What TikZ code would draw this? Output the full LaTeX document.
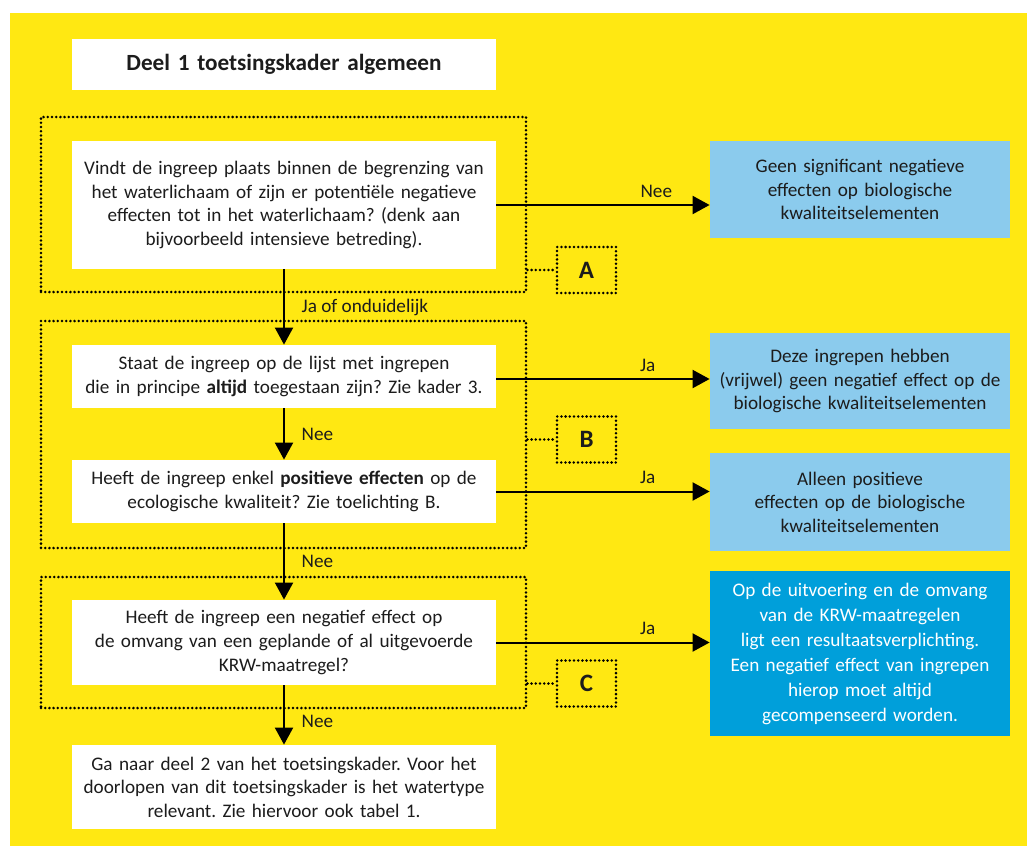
\documentclass[tikz,border=0pt]{standalone}
\usepackage{fontspec}
\setmainfont{Carlito}
\usetikzlibrary{arrows.meta}
\definecolor{rijksgeel}{RGB}{255,232,18}
\definecolor{lichtblauw}{RGB}{139,203,237}
\definecolor{donkerblauw}{RGB}{0,159,218}
\definecolor{tekst}{RGB}{28,28,28}
\frenchspacing
\begin{document}
\begin{tikzpicture}[x=0.5pt,y=-0.5pt,font=\fontsize{9.6}{11.8}\selectfont,text=tekst,
		vraag/.style={fill=white,inner sep=0pt,minimum width=212pt,text width=212pt,align=center},
		uitkomst/.style={fill=lichtblauw,inner sep=0pt,minimum width=150pt,text width=150pt,align=center},
		kader/.style={draw,line width=1.4pt,line cap=round,dash pattern=on 0pt off 2.1pt,inner sep=0pt,minimum width=242.5pt},
		letter/.style={draw,line width=1.4pt,line cap=round,dash pattern=on 0pt off 2.1pt,inner sep=0pt,minimum width=29.5pt,minimum height=23pt,font=\bfseries\fontsize{12.5}{14}\selectfont},
		stippel/.style={line width=1.4pt,line cap=round,dash pattern=on 0pt off 2.1pt},
		pijl/.style={line width=1pt,-{Triangle[length=8.5pt,width=9pt]}}]
	\fill[white] (0,0) rectangle (1027,846);
	\fill[rijksgeel] (10,13) rectangle (1027,846);
	
	\node[kader,minimum height=87.5pt] (kaderA) at (283.5,204.5) {};
	\node[kader,minimum height=113.5pt] (kaderB) at (283.5,434.5) {};
	\node[kader,minimum height=65.5pt] (kaderC) at (283.5,642.5) {};
	
	\node[letter] (letterA) at (586.5,270) {A};
	\node[letter] (letterB) at (586.5,439.5) {B};
	\node[letter] (letterC) at (586.5,683.5) {C};
	
	\draw[stippel] (kaderA.east |- letterA.west) -- (letterA.west);
	\draw[stippel] (kaderB.east |- letterB.west) -- (letterB.west);
	\draw[stippel] (kaderC.east |- letterC.west) -- (letterC.west);
	
	\node[vraag,minimum height=25.5pt,font=\bfseries\fontsize{11.6}{13}\selectfont] (titel) at (284,64.5) {Deel 1 toetsingskader algemeen};
	\node[vraag,minimum height=64pt] (vraag1) at (284,205) {Vindt de ingreep plaats binnen de begrenzing van\\het waterlichaam of zijn er potentiële negatieve\\effecten tot in het waterlichaam? (denk aan\\bijvoorbeeld intensieve betreding).};
	\node[vraag,minimum height=31.5pt] (vraag2) at (284,376.5) {Staat de ingreep op de lijst met ingrepen\\die in principe \textbf{altijd} toegestaan zijn? Zie kader 3.};
	\node[vraag,minimum height=31.5pt] (vraag3) at (284,491.5) {Heeft de ingreep enkel \textbf{positieve effecten} op de\\ecologische kwaliteit? Zie toelichting B.};
	\node[vraag,minimum height=42.5pt] (vraag4) at (284,642.5) {Heeft de ingreep een negatief effect op\\de omvang van een geplande of al uitgevoerde\\KRW-maatregel?};
	\node[vraag,minimum height=42pt] (deel2) at (284,787) {Ga naar deel 2 van het toetsingskader. Voor het\\doorlopen van dit toetsingskader is het watertype\\relevant. Zie hiervoor ook tabel 1.};
	
	\node[uitkomst,minimum height=48.5pt] (uit1) at (860,189.5) {Geen significant negatieve\\effecten op biologische\\kwaliteitselementen};
	\node[uitkomst,minimum height=48pt] (uit2) at (860,381) {Deze ingrepen hebben\\(vrijwel) geen negatief effect op de\\biologische kwaliteitselementen};
	\node[uitkomst,minimum height=49pt] (uit3) at (860,502) {Alleen positieve\\effecten op de biologische\\kwaliteitselementen};
	\node[uitkomst,fill=donkerblauw,text=white,minimum height=82.5pt,font=\fontsize{9.6}{12.5}\selectfont] (uit4) at (860,653.5) {Op de uitvoering en de omvang\\van de KRW-maatregelen\\ligt een resultaatsverplichting.\\Een negatief effect van ingrepen\\hierop moet altijd\\gecompenseerd worden.};
	
	\draw[pijl] (vraag1) -- node[right,xshift=5pt] {Ja of onduidelijk} (vraag2);
	\draw[pijl] (vraag2) -- node[right,xshift=5pt] {Nee} (vraag3);
	\draw[pijl] (vraag3) -- node[right,xshift=5pt] {Nee} (vraag4);
	\draw[pijl] (vraag4) -- node[right,xshift=5pt,pos=0.6] {Nee} (deel2);
	
	\draw[pijl] (vraag1.east) -- node[above,pos=0.75] {Nee} (vraag1.east -| uit1.west);
	\draw[pijl] (vraag2.east |- 0,379) -- node[above,pos=0.71] {Ja} (uit2.west |- 0,379);
	\draw[pijl] (vraag3.east) -- node[above,pos=0.71] {Ja} (vraag3.east -| uit3.west);
	\draw[pijl] (vraag4.east) -- node[above,pos=0.71] {Ja} (vraag4.east -| uit4.west);
\end{tikzpicture}
\end{document}
